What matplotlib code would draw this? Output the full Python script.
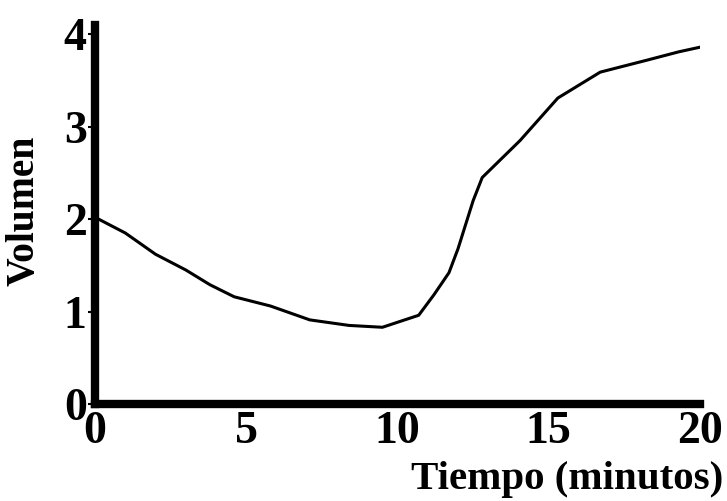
import matplotlib
matplotlib.use('Agg')
import matplotlib.pyplot as plt
import numpy as np

# datos
tiempo = [0, 1.0, 2.0, 3.0, 3.8, 4.6, 5.8, 7.1, 8.4, 9.5, 10.7, 11.2, 11.7, 12.0, 12.5, 12.8, 14.05, 15.3, 16.7, 18.25, 19.3, 20.0]
volumen = [2.02, 1.85, 1.62, 1.45, 1.29, 1.16, 1.06, 0.91, 0.85, 0.83, 0.96, 1.18, 1.42, 1.68, 2.2, 2.45, 2.85, 3.31, 3.59, 3.72, 3.81, 3.86]
xticks = [0, 5, 10, 15, 20]
yticks = [0, 1, 2, 3, 4]

plt.rcParams['font.family'] = ['Liberation Serif', 'DejaVu Serif']
plt.rcParams['font.weight'] = 'bold'

fig = plt.figure(figsize=(7.27, 5.01), dpi=100)
ax = fig.add_axes([0.1307, 0.1936, 0.8322, 0.7565])

ax.plot(tiempo, volumen, color='black', lw=2.2)

ax.set_xlim(0, 20)
ax.set_ylim(0, 4.1)
ax.set_xticks(xticks)
ax.set_yticks(yticks)
ax.set_xticklabels([str(t) for t in xticks], fontsize=33, fontweight='bold')
ax.set_yticklabels([str(t) for t in yticks], fontsize=33, fontweight='bold')

for s in ['top', 'right']:
    ax.spines[s].set_visible(False)
for s in ['left', 'bottom']:
    ax.spines[s].set_linewidth(6)
    ax.spines[s].set_capstyle('projecting')

ax.tick_params(axis='y', length=5, width=1.5, pad=1)
ax.tick_params(axis='x', length=0, pad=5)

ax.set_ylabel('Volumen', fontsize=28.5, fontweight='bold')
ax.yaxis.set_label_coords(-0.086, 0.51)
fig.text(0.995, 0.006, 'Tiempo (minutos)', fontsize=29.5, fontweight='bold', ha='right', va='bottom')

fig.savefig('out.png', dpi=100)
